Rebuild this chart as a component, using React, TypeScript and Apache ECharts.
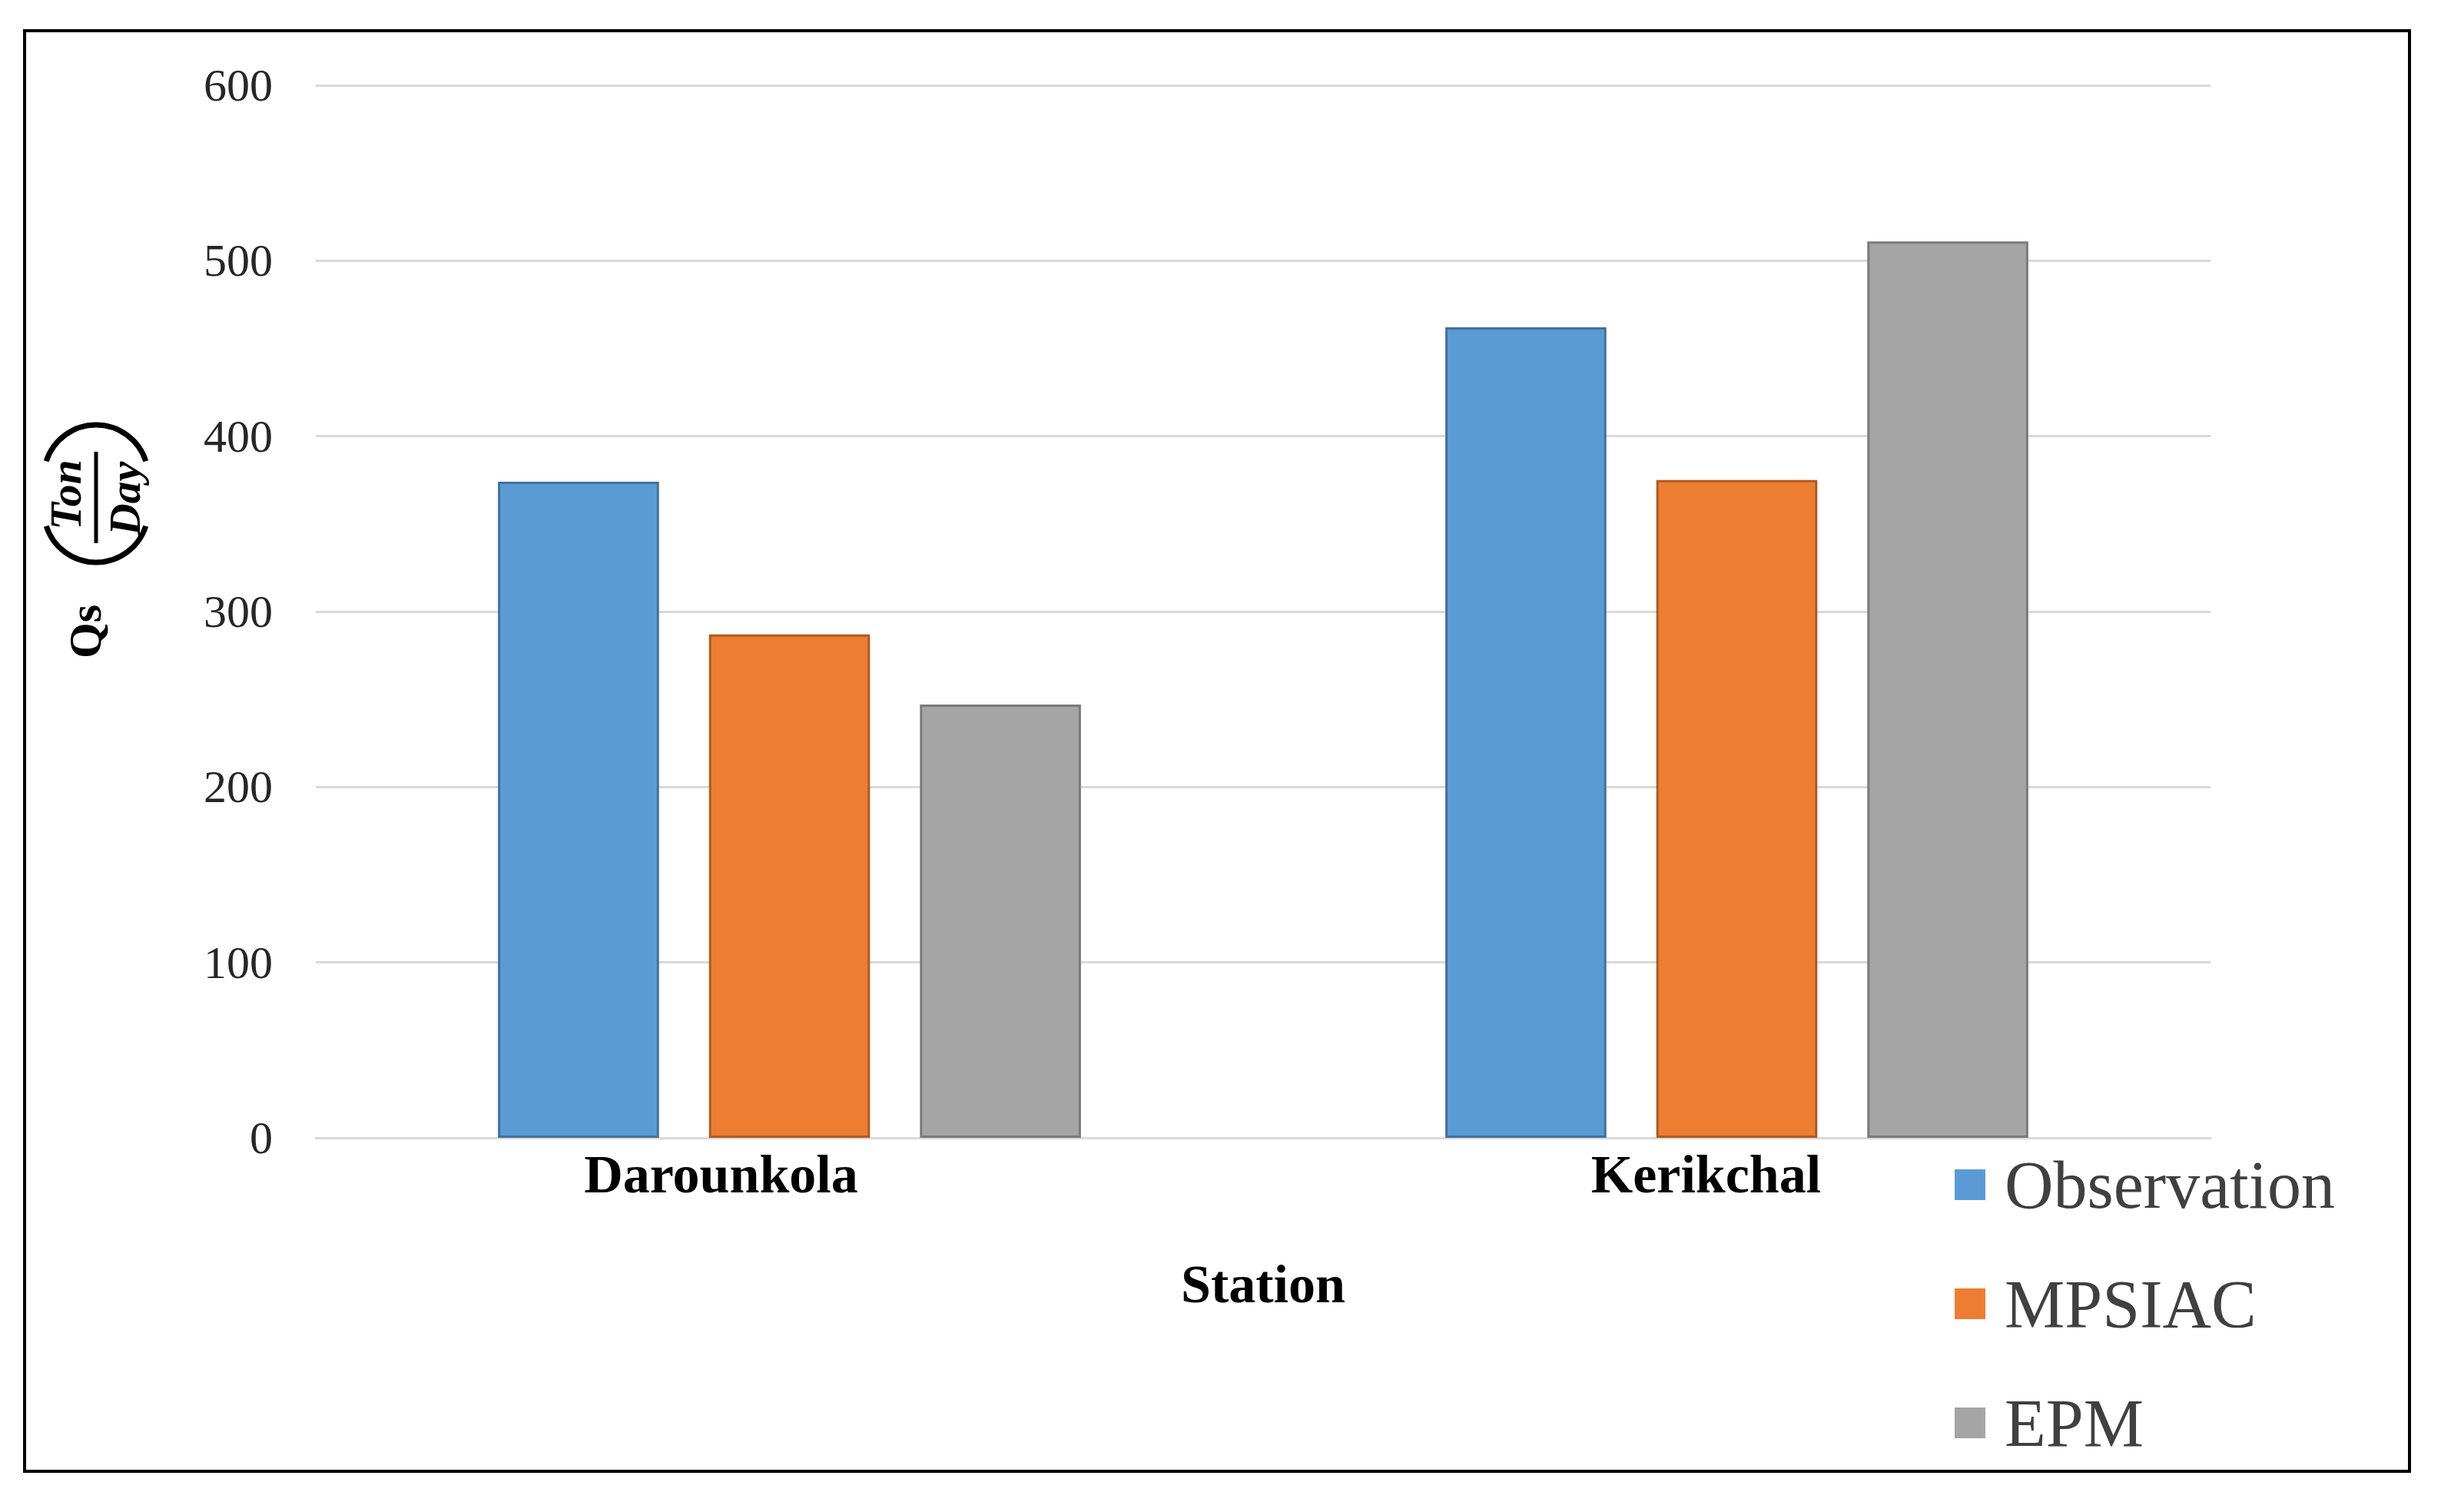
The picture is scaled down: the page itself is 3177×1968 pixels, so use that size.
import React, { useEffect, useRef } from "react";
import * as echarts from "echarts";

const categories = ["Darounkola", "Kerikchal"];
const seriesNames = ["Observation", "MPSIAC", "EPM"];
const observation = [374, 462];
const mpsiac = [287, 375];
const epm = [247, 511];
const yTicks = { min: 0, max: 600, interval: 100 };

const colors = ["#5B9BD5", "#ED7D31", "#A5A5A5"];
const borders = ["#41719C", "#AE5A21", "#7B7B7B"];

export default function App() {
  const ref = useRef<HTMLDivElement>(null);
  useEffect(() => {
    if (!ref.current) return;
    const chart = echarts.init(ref.current, null, { renderer: "svg" });
    const serif = "Liberation Serif";
    const values = [observation, mpsiac, epm];
    const option = {
      animation: false,
      backgroundColor: "#ffffff",
      grid: { left: 411, right: 300, top: 111, bottom: 487 },
      legend: {
        orient: "vertical",
        left: 2539,
        top: 1487,
        itemWidth: 40,
        itemHeight: 40,
        itemGap: 55,
        icon: "rect",
        itemStyle: { borderWidth: 0 },
        textStyle: {
          fontFamily: serif,
          fontSize: 88,
          lineHeight: 100,
          color: "#404040",
          padding: [0, 0, 0, 20],
        },
        data: seriesNames,
      },
      xAxis: {
        type: "category",
        data: [
          { value: categories[0], textStyle: { padding: [0, 178, 0, 0] } },
          { value: categories[1], textStyle: { padding: [0, 80, 0, 0] } },
        ],
        name: "Station",
        nameLocation: "middle",
        nameGap: 155,
        nameTextStyle: { fontFamily: serif, fontWeight: "bold", fontSize: 70, color: "#000" },
        axisLine: { show: true, lineStyle: { color: "#D9D9D9", width: 3 } },
        axisTick: { show: false },
        axisLabel: {
          margin: 12,
          fontFamily: serif,
          fontWeight: "bold",
          fontSize: 70,
          color: "#000",
        },
      },
      yAxis: {
        type: "value",
        min: yTicks.min,
        max: yTicks.max,
        interval: yTicks.interval,
        axisLine: { show: false },
        axisTick: { show: false },
        splitLine: { lineStyle: { color: "#D9D9D9", width: 3 } },
        axisLabel: { margin: 56, fontFamily: serif, fontSize: 60, color: "#262626" },
      },
      series: seriesNames.map((name, i) => ({
        name,
        type: "bar",
        data: values[i],
        barWidth: "17%",
        barGap: "31%",
        itemStyle: { color: colors[i], borderColor: borders[i], borderWidth: 3 },
      })),
      graphic: [
        {
          type: "rect",
          shape: { x: 32, y: 40, width: 3104, height: 1875 },
          style: { fill: "none", stroke: "#000", lineWidth: 4 },
          silent: true,
        },
        {
          type: "text",
          x: 111,
          y: 822,
          rotation: Math.PI / 2,
          style: {
            text: "Qs",
            fontFamily: serif,
            fontWeight: "bold",
            fontSize: 60,
            fill: "#000",
            align: "center",
            verticalAlign: "middle",
          },
        },
        {
          type: "text",
          x: 85,
          y: 644,
          rotation: Math.PI / 2,
          style: {
            text: "Ton",
            fontFamily: serif,
            fontWeight: "bold",
            fontStyle: "italic",
            fontSize: 58,
            fill: "#000",
            align: "center",
            verticalAlign: "middle",
          },
        },
        {
          type: "text",
          x: 162,
          y: 649,
          rotation: Math.PI / 2,
          style: {
            text: "Day",
            fontFamily: serif,
            fontWeight: "bold",
            fontStyle: "italic",
            fontSize: 58,
            fill: "#000",
            align: "center",
            verticalAlign: "middle",
          },
        },
        {
          type: "line",
          shape: { x1: 125, y1: 588, x2: 125, y2: 707 },
          style: { stroke: "#000", lineWidth: 5 },
        },
        {
          type: "arc",
          shape: { cx: 125, cy: 621, r: 68, startAngle: Math.PI + 0.31, endAngle: 2 * Math.PI - 0.31, clockwise: true },
          style: { stroke: "#000", lineWidth: 7, fill: "none" },
        },
        {
          type: "arc",
          shape: { cx: 125, cy: 664, r: 68, startAngle: 0.31, endAngle: Math.PI - 0.31, clockwise: true },
          style: { stroke: "#000", lineWidth: 7, fill: "none" },
        },
      ],
    };
    chart.setOption(option as any);
    return () => chart.dispose();
  }, []);
  return (
    <div
      ref={ref}
      style={{ position: "fixed", left: 0, top: 0, width: 3177, height: 1968 }}
    />
  );
}
